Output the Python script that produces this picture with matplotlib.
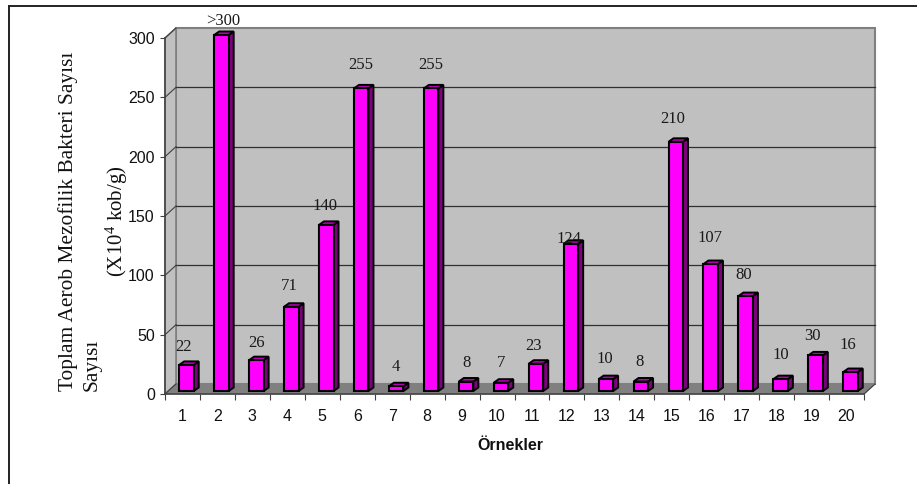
import matplotlib
matplotlib.use('Agg')
import matplotlib.pyplot as plt
from matplotlib.lines import Line2D
from matplotlib.patches import Polygon

plt.rcParams['mathtext.default'] = 'regular'

samples = list(range(1, 21))
counts = [22, 300, 26, 71, 140, 255, 4, 255, 8, 7, 23, 124, 10, 8, 210, 107, 80, 10, 30, 16]
count_labels = ['22', '>300', '26', '71', '140', '255', '4', '255', '8', '7',
                '23', '124', '10', '8', '210', '107', '80', '10', '30', '16']
yticks = [0, 50, 100, 150, 200, 250, 300]

# hand placed label offsets in pixels from the top of each bar (x, y)
label_dx = [-2.5, 1.5, 0, -2, -1, 0, 0, 0, 0, 0, -2, -2, -1, -1, -3, -1, -2, 0, -3, -3]
label_dy = [18, 13.5, 17, 21, 19, 23, 19, 23, 19, 20, 18, 5, 20, 19.5, 23, 26, 21, 24, 19, 27]

W, H = 917, 484
LEFT, RIGHT, TOP, BOTTOM = 165, 864, 38, 394

fig = plt.figure(figsize=(W / 100, H / 100), dpi=100)
ax = fig.add_axes([LEFT / W, 1 - BOTTOM / H, (RIGHT - LEFT) / W, (BOTTOM - TOP) / H])
ax.set_xlim(0.5, 20.5)
ax.set_ylim(0, 300)
ax.patch.set_visible(False)

# pixels to data units
px = 20 / (RIGHT - LEFT)
py = 300 / (BOTTOM - TOP)
dx, dy = 11 * px, 10 * py
x0, x1 = 0.5, 20.5

# back wall, side wall and floor of the 3d box
ax.add_patch(Polygon([(x0 + dx, dy), (x1 + dx, dy), (x1 + dx, 300 + dy), (x0 + dx, 300 + dy)],
                     fc='#c0c0c0', ec='#808080', lw=1.5, clip_on=False, zorder=1))
ax.add_patch(Polygon([(x0, 0), (x0 + dx, dy), (x0 + dx, 300 + dy), (x0, 300)],
                     fc='#c0c0c0', ec='#808080', lw=1.2, clip_on=False, zorder=1))
ax.add_patch(Polygon([(x0, 0), (x1, 0), (x1 + dx, dy), (x0 + dx, dy)],
                     fc='#808080', ec='#808080', lw=0.8, clip_on=False, zorder=2))

for t in yticks[1:-1]:
    ax.plot([x0 + dx, x1 + dx], [t + dy, t + dy], color='#303030', lw=0.9, clip_on=False, zorder=2)
for t in yticks:
    ax.plot([x0, x0 + dx], [t, t + dy], color='#404040', lw=0.8, clip_on=False, zorder=2)
ax.plot([x1, x1 + dx], [0, dy], color='#404040', lw=0.8, clip_on=False, zorder=2)

# bars: front face plus side and top faces
shift = 4 * px
bar_w = 14.5 * px
base = 3 * py
ddx, ddy = 5 * px, 3.5 * py
ax.bar([s + shift for s in samples], counts, width=bar_w, bottom=base, color='#ff00ff',
       edgecolor='black', linewidth=1.5, clip_on=False, zorder=4)
for s, v in zip(samples, counts):
    l = s + shift - bar_w / 2
    r = s + shift + bar_w / 2
    t = v + base
    ax.add_patch(Polygon([(r, base), (r + ddx, base + ddy), (r + ddx, t + ddy), (r, t)],
                         fc='#800080', ec='black', lw=1.4, clip_on=False, zorder=3))
    ax.add_patch(Polygon([(l, t), (r, t), (r + ddx, t + ddy), (l + ddx, t + ddy)],
                         fc='#c000c0', ec='black', lw=1.4, clip_on=False, zorder=3))

for s, v, lab, ox, oy in zip(samples, counts, count_labels, label_dx, label_dy):
    ax.annotate(lab, xy=(s + shift, v + base), xytext=(ox, oy), textcoords='offset pixels',
                ha='center', va='center', family='Liberation Serif', fontsize=12,
                color='#1a1a1a', zorder=5, annotation_clip=False)

for side in ['top', 'right']:
    ax.spines[side].set_visible(False)
for side in ['left', 'bottom']:
    ax.spines[side].set_color('#404040')
    ax.spines[side].set_linewidth(1.1)
    ax.spines[side].set_zorder(6)

ax.set_yticks(yticks)
ax.set_xticks([i + 0.5 for i in range(0, 21)])
ax.set_xticklabels([])
ax.set_xticks(samples, minor=True)
ax.set_xticklabels([str(s) for s in samples], minor=True)
ax.tick_params(axis='x', which='major', direction='out', length=4.5, width=0.8, color='#404040')
ax.tick_params(axis='x', which='minor', length=0, pad=11)
ax.tick_params(axis='y', direction='out', length=3.8, width=0.8, color='#404040', pad=3.5)
for lab in ax.get_xticklabels(minor=True) + ax.get_yticklabels():
    lab.set_family('Liberation Sans')
    lab.set_fontsize(11.5)
    lab.set_color('#111111')

fig.text(510 / W, 1 - 446 / H, 'Örnekler', family='Liberation Sans', weight='bold', fontsize=11.5,
         ha='center', va='center', color='#111111')

# stacked y axis titles
fig.text(68 / W, 1 - 221 / H, 'Toplam Aerob Mezofilik Bakteri Sayısı', family='Liberation Serif',
         fontsize=15.4, rotation=90, ha='center', va='center', color='#111111')
fig.text(92 / W, 1 - 365 / H, 'Sayısı', family='Liberation Serif', fontsize=15.4, rotation=90,
         ha='center', va='center', color='#111111')
fig.text(116.5 / W, 1 - 221 / H, '(X10$^{4}$ kob/g)', family='Liberation Serif', fontsize=15,
         rotation=90, ha='center', va='center', color='#111111')

# outer frame only shows on the left and top
fig.add_artist(Line2D([8.5 / W, 8.5 / W], [0, 1 - 5.5 / H], color='#222222', lw=1.4))
fig.add_artist(Line2D([8.5 / W, 1], [1 - 5.5 / H, 1 - 5.5 / H], color='#222222', lw=1.4))

fig.savefig('out.png', dpi=100)
